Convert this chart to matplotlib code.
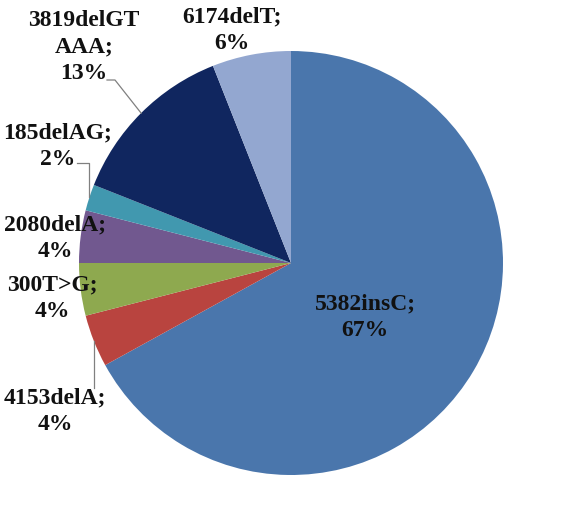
import matplotlib
matplotlib.use("Agg")
import matplotlib.pyplot as plt
import numpy as np

names = ["5382insC", "4153delA", "300T>G", "2080delA", "185delAG", "3819delGTAAA", "6174delT"]
label_text = ["5382insC;", "4153delA;", "300T>G;", "2080delA;", "185delAG;", "3819delGT\nAAA;", "6174delT;"]
values = [67, 4, 4, 4, 2, 13, 6]
colors = ["#4A76AC", "#B9443F", "#8EA94F", "#71588F", "#4198AF", "#10265F", "#93A7D0"]

W, H = 583, 527
cx, cy, R = 291, 263, 212
fig = plt.figure(figsize=(W / 100, H / 100), dpi=100)
ax = fig.add_axes([(cx - R) / W, (H - cy - R) / H, 2 * R / W, 2 * R / H])
wedges, _ = ax.pie(values, colors=colors, startangle=90, counterclock=False,
                   radius=1, wedgeprops=dict(linewidth=0))
ax.set_xlim(-1, 1)
ax.set_ylim(-1, 1)
ax.set_aspect("equal")
ax.axis("off")

def px(x, y):
    return (x - cx) / R, (cy - y) / R

# label centres in pixel coords (layout)
label_pos = [(365, 317), (55, 411), (52, 298), (55, 238), (58, 146), (84, 47), (232, 30)]
font = dict(family="Liberation Serif", fontweight="bold", fontsize=17, color="#111111",
            ha="center", va="center", linespacing=1.36)
for txt, v, pos in zip(label_text, values, label_pos):
    x, y = px(*pos)
    ax.text(x, y, f"{txt}\n{v}%", **font)

def edge_point(i):
    w = wedges[i]
    a = np.deg2rad((w.theta1 + w.theta2) / 2)
    return np.cos(a), np.sin(a)

line_kw = dict(color="#808080", lw=0.9, clip_on=False)
# 3819delGTAAA leader
ex, ey = edge_point(5)
x0, y0 = px(107, 80)
x1, y1 = px(115, 80)
ax.plot([x0, x1, ex], [y0, y1, ey], **line_kw)
# 185delAG leader
ex, ey = edge_point(4)
x0, y0 = px(77, 163)
x1, y1 = px(ex * R + cx, 163)
ax.plot([x0, x1, ex], [y0, y1, ey], **line_kw)
# 4153delA leader
ex, ey = edge_point(1)
x0, y0 = px(ex * R + cx, 388)
ax.plot([x0, ex], [y0, ey], **line_kw)

fig.savefig("out.png", dpi=100)
